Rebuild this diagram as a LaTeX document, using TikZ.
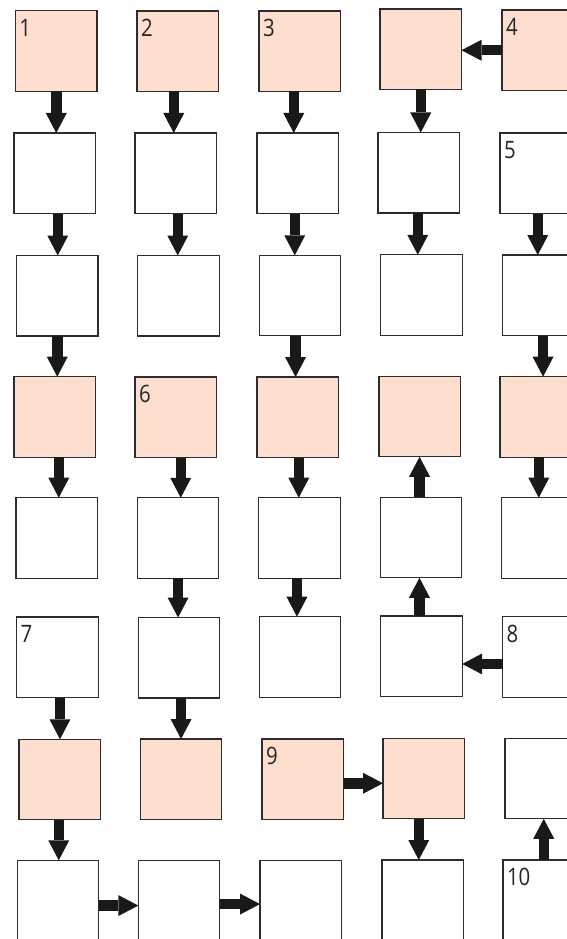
\documentclass[tikz,border=0pt]{standalone}
\usepackage{fontspec}
\setmainfont{Open Sans}
\usetikzlibrary{arrows.meta,calc}
\definecolor{peach}{RGB}{253,222,207}
\definecolor{edgegray}{RGB}{45,45,45}
\definecolor{arrblack}{RGB}{24,26,24}
\newcommand\arrdown[3]{\draw[blk] ($(#1.south)+(#3,0)$) -- ($(#1.south |- #2.north)+(#3,0)$);}
\newcommand\arrup[3]{\draw[blk] ($(#1.north)+(#3,0)$) -- ($(#1.north |- #2.south)+(#3,0)$);}
\newcommand\arrleft[3]{\draw[blk] ($(#1.west)+(0,#3)$) -- ($(#1.west -| #2.east)+(0,#3)$);}
\newcommand\arrright[3]{\draw[blk] ($(#1.east)+(0,#3)$) -- ($(#1.east -| #2.west)+(0,#3)$);}
\begin{document}
\begin{tikzpicture}[x=1pt,y=-1pt,
  box/.style={draw=edgegray,line width=1.1pt,minimum width=81.5pt,minimum height=80.5pt,inner sep=0pt,outer sep=0pt,anchor=north west,fill=white},
  pbox/.style={box,fill=peach},
  num/.style={anchor=base west,inner sep=0pt,outer sep=0pt,font=\fontsize{24}{24}\selectfont,xscale=0.85,text=black!85},
  blk/.style={draw=arrblack,line width=10.5pt,-{Triangle[width=21pt,length=20pt,line width=0pt,fill=arrblack]}}
]
\clip (0,0) rectangle (567,939);
% row 1
\node[pbox] (A1) at (15.5,10.7) {};
\node[pbox] (A2) at (137,11) {};
\node[pbox] (A3) at (259,11) {};
\node[pbox] (A4) at (380,9) {};
\node[pbox] (A5) at (502,10) {};
% row 2
\node[box] (B1) at (14,133) {};
\node[box] (B2) at (135,133) {};
\node[box] (B3) at (257,133) {};
\node[box] (B4) at (378,132.5) {};
\node[box] (B5) at (500,133) {};
% row 3
\node[box] (C1) at (16.5,255.5) {};
\node[box] (C2) at (137.7,255.5) {};
\node[box] (C3) at (259.3,255.3) {};
\node[box] (C4) at (380.7,254.8) {};
\node[box] (C5) at (502.3,255) {};
% row 4
\node[pbox] (D1) at (14,376.7) {};
\node[pbox] (D2) at (135,377) {};
\node[pbox] (D3) at (257,377) {};
\node[pbox] (D4) at (379,376.3) {};
\node[pbox] (D5) at (500,376.7) {};
% row 5
\node[box] (E1) at (16,497.7) {};
\node[box] (E2) at (137.3,497.8) {};
\node[box] (E3) at (258.7,497.7) {};
\node[box] (E4) at (380.3,497.3) {};
\node[box] (E5) at (501.7,497.7) {};
% row 6
\node[box] (F1) at (16.7,617) {};
\node[box] (F2) at (138.3,617.5) {};
\node[box] (F3) at (259.3,616.7) {};
\node[box] (F4) at (380.7,616) {};
\node[box] (F5) at (502.7,616.7) {};
% row 7
\node[pbox] (G1) at (19,739.3) {};
\node[pbox] (G2) at (140.3,739) {};
\node[pbox] (G3) at (262,739) {};
\node[pbox] (G4) at (383,738.3) {};
\node[box] (G5) at (505,738.3) {};
% row 8
\node[box] (H1) at (17.3,860.3) {};
\node[box] (H2) at (138.3,860.3) {};
\node[box] (H3) at (260,860.7) {};
\node[box] (H4) at (382,860) {};
\node[box] (H5) at (503,860) {};
% numbers
\node[num] (n1) at ($(A1.north west)+(4,25.5)$) {1};
\node[num] (n2) at ($(A2.north west)+(4,25.5)$) {2};
\node[num] (n3) at ($(A3.north west)+(4,25.5)$) {3};
\node[num] (n4) at ($(A5.north west)+(4,25.5)$) {4};
\node[num] (n5) at ($(B5.north west)+(4,25.5)$) {5};
\node[num] (n6) at ($(D2.north west)+(4,25.5)$) {6};
\node[num] (n7) at ($(F1.north west)+(4,25.5)$) {7};
\node[num] (n8) at ($(F5.north west)+(4,25.5)$) {8};
\node[num] (n9) at ($(G3.north west)+(4,25.5)$) {9};
\node[num] (n10) at ($(H5.north west)+(4,25.5)$) {10};
% column 1
\arrdown{A1}{B1}{0}
\arrdown{B1}{C1}{3}
\arrdown{C1}{D1}{0}
\arrdown{D1}{E1}{4}
\arrdown{F1}{G1}{2.5}
\arrdown{G1}{H1}{-1}
% column 2
\arrdown{A2}{B2}{-4}
\arrdown{B2}{C2}{2}
\arrdown{D2}{E2}{5}
\arrdown{E2}{F2}{0}
\arrdown{F2}{G2}{2}
% column 3
\arrdown{A3}{B3}{-6}
\arrdown{B3}{C3}{-3}
\arrdown{C3}{D3}{-4.5}
\arrdown{D3}{E3}{1}
\arrdown{E3}{F3}{-2.5}
% column 4
\arrleft{A5}{A4}{0}
\arrdown{A4}{B4}{0}
\arrdown{B4}{C4}{-1}
\arrup{E4}{D4}{-1.5}
\arrup{F4}{E4}{-2}
\arrleft{F5}{F4}{7}
\arrright{G3}{G4}{4}
\arrdown{G4}{H4}{-5}
% column 5
\arrdown{B5}{C5}{-3}
\arrdown{C5}{D5}{0}
\arrdown{D5}{E5}{-2}
\arrup{H5}{G5}{0}
% row 8
\arrright{H1}{H2}{5}
\arrright{H2}{H3}{3.5}
\end{tikzpicture}
\end{document}
